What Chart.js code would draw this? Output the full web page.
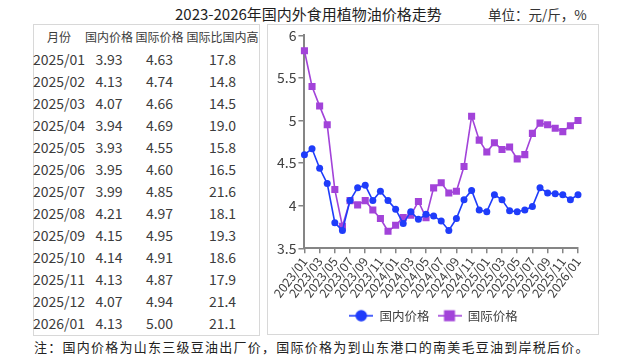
<!DOCTYPE html>
<html><head><meta charset="utf-8">
<script src="https://cdn.jsdelivr.net/npm/chart.js@4/dist/chart.umd.min.js"></script>
<style>
html,body{margin:0;padding:0;background:#fff;width:630px;height:359px;overflow:hidden;font-family:"Noto Sans CJK SC","Noto Sans",sans-serif;}
.abs{position:absolute;white-space:nowrap;}
#title{left:175px;top:4px;font-size:15px;color:#1e1e1e;line-height:20px;}
#unit{left:488px;top:5px;font-size:13.5px;color:#333;line-height:18px;}
.box{position:absolute;border:1px solid #d8d8d8;box-sizing:border-box;}
.cell{position:absolute;width:90px;text-align:center;height:22px;line-height:22px;color:#3c3c3c;white-space:nowrap;}
.hdr{font-size:12px;}
.dat{font-size:14px;}
#note{left:34px;top:338px;font-size:13px;letter-spacing:1.25px;color:#222;line-height:18px;}
#wrap{position:absolute;left:268px;top:25px;width:329px;height:308px;}
</style>
</head><body>
<div id="title" class="abs">2023-2026年国内外食用植物油价格走势</div>
<div id="unit" class="abs">单位：元/斤，%</div>
<div class="box" style="left:33px;top:24px;width:227px;height:312px;"></div>
<div class="box" style="left:267px;top:24px;width:332px;height:311px;"></div>
<div id="table"></div>
<div id="wrap"><canvas id="c" width="329" height="308"></canvas></div>
<div id="note" class="abs">注：国内价格为山东三级豆油出厂价，国际价格为到山东港口的南美毛豆油到岸税后价。</div>
<script>
// ---- data ----
const months = ["2023/01","2023/02","2023/03","2023/04","2023/05","2023/06","2023/07","2023/08","2023/09","2023/10","2023/11","2023/12",
"2024/01","2024/02","2024/03","2024/04","2024/05","2024/06","2024/07","2024/08","2024/09","2024/10","2024/11","2024/12",
"2025/01","2025/02","2025/03","2025/04","2025/05","2025/06","2025/07","2025/08","2025/09","2025/10","2025/11","2025/12","2026/01"];
const domestic = [4.60,4.67,4.44,4.26,3.80,3.71,4.06,4.21,4.24,4.06,4.17,4.06,
3.96,3.79,3.93,3.84,3.90,3.88,3.82,3.71,3.85,4.07,4.18,3.95,
3.93,4.13,4.07,3.94,3.93,3.95,3.99,4.21,4.15,4.14,4.13,4.07,4.13];
const intl = [5.82,5.40,5.17,4.95,4.19,3.76,4.06,4.01,4.06,3.95,3.85,3.70,
3.77,3.86,3.89,4.05,3.86,4.21,4.27,4.15,4.17,4.46,5.05,4.77,
4.63,4.74,4.66,4.69,4.55,4.60,4.85,4.97,4.95,4.91,4.87,4.94,5.00];
const tableHeaders = ["月份","国内价格","国际价格","国际比国内高"];
const tableMonths = ["2025/01","2025/02","2025/03","2025/04","2025/05","2025/06","2025/07","2025/08","2025/09","2025/10","2025/11","2025/12","2026/01"];
const tableDomestic = [3.93,4.13,4.07,3.94,3.93,3.95,3.99,4.21,4.15,4.14,4.13,4.07,4.13];
const tableIntl = [4.63,4.74,4.66,4.69,4.55,4.60,4.85,4.97,4.95,4.91,4.87,4.94,5.00];
const tableRatio = [17.8,14.8,14.5,19.0,15.8,16.5,21.6,18.1,19.3,18.6,17.9,21.4,21.1];
const yTicks = [3.5,4,4.5,5,5.5,6];

// ---- table ----
const colCenters = [59,109,159.5,222.5];
const tbl = document.getElementById('table');
function addCell(txt, cx, cy, cls){
  const d = document.createElement('div');
  d.className = 'cell ' + cls;
  d.style.left = (cx - 45) + 'px';
  d.style.top = (cy - 11) + 'px';
  d.textContent = txt;
  tbl.appendChild(d);
}
tableHeaders.forEach((h,j)=>addCell(h, colCenters[j], 36.7, 'hdr'));
tableMonths.forEach((m,i)=>{
  const cy = 58.7 + i*22.05;
  addCell(m, colCenters[0], cy, 'dat');
  addCell(tableDomestic[i].toFixed(2), colCenters[1], cy, 'dat');
  addCell(tableIntl[i].toFixed(2), colCenters[2], cy, 'dat');
  addCell(tableRatio[i].toFixed(1), colCenters[3], cy, 'dat');
});

// ---- chart ----
const BLUE = '#1f3cfa';
const PURPLE = '#a243d9';
const AX = '#858585';
const TXT = '#404040';
const FAM = '"Noto Sans CJK SC","Noto Sans",sans-serif';

function legendIcon(color, shape){
  const cv = document.createElement('canvas');
  cv.width = 24; cv.height = 14;
  const g = cv.getContext('2d');
  g.strokeStyle = color; g.lineWidth = 1.6;
  g.beginPath(); g.moveTo(0,7); g.lineTo(24,7); g.stroke();
  g.fillStyle = color;
  if (shape === 'circle'){ g.beginPath(); g.arc(12,7,5.8,0,Math.PI*2); g.fill(); }
  else { g.fillRect(6.5,1.5,11,11); }
  return cv;
}
const icons = [legendIcon(BLUE,'circle'), legendIcon(PURPLE,'rect')];

const shiftLegend = {
  id:'shiftLegend',
  afterLayout(chart){ const l = chart.legend; if (l){ l.left += 7; l.right += 7; } }
};

new Chart(document.getElementById('c'), {
  type: 'line',
  data: {
    labels: months,
    datasets: [
      {label:'国内价格', data: domestic, borderColor: BLUE, backgroundColor: BLUE, pointStyle:'circle', pointRadius:3.5, pointBorderWidth:0, borderWidth:1.6, tension:0},
      {label:'国际价格', data: intl, borderColor: PURPLE, backgroundColor: PURPLE, pointStyle:'rect', pointRadius:5, pointBorderWidth:0, borderWidth:1.6, tension:0}
    ]
  },
  plugins:[shiftLegend],
  options: {
    responsive:false, animation:false, devicePixelRatio:1,
    layout:{padding:{left:7,right:19,top:9,bottom:1}},
    plugins:{
      tooltip:{enabled:false},
      legend:{position:'bottom', labels:{
        usePointStyle:true, pointStyleWidth:24, padding:8, color:TXT,
        font:{size:12.5,family:FAM},
        generateLabels:(chart)=>{
          const items = Chart.defaults.plugins.legend.labels.generateLabels(chart);
          items.forEach((it,i)=>{ it.pointStyle = icons[i]; });
          return items;
        }
      }}
    },
    scales:{
      x:{
        grid:{display:true, drawOnChartArea:false, drawTicks:true, tickLength:5, color:AX, lineWidth:1.5},
        border:{display:true, color:AX, width:2},
        ticks:{autoSkip:false, minRotation:53, maxRotation:53, padding:1, color:TXT, font:{size:12.5,family:FAM},
          callback:(v,i)=> (i%2===0 ? months[i] : null)}
      },
      y:{
        min: yTicks[0], max: yTicks[yTicks.length-1],
        afterBuildTicks:(s)=>{ s.ticks = yTicks.map(v=>({value:v})); },
        grid:{display:true, drawOnChartArea:false, drawTicks:true, tickLength:6, color:AX, lineWidth:1.5},
        border:{display:true, color:AX, width:2},
        ticks:{padding:2, color:TXT, font:{size:14,family:FAM}, callback:(v)=>String(Number(v))}
      }
    }
  }
});
</script>
</body></html>
